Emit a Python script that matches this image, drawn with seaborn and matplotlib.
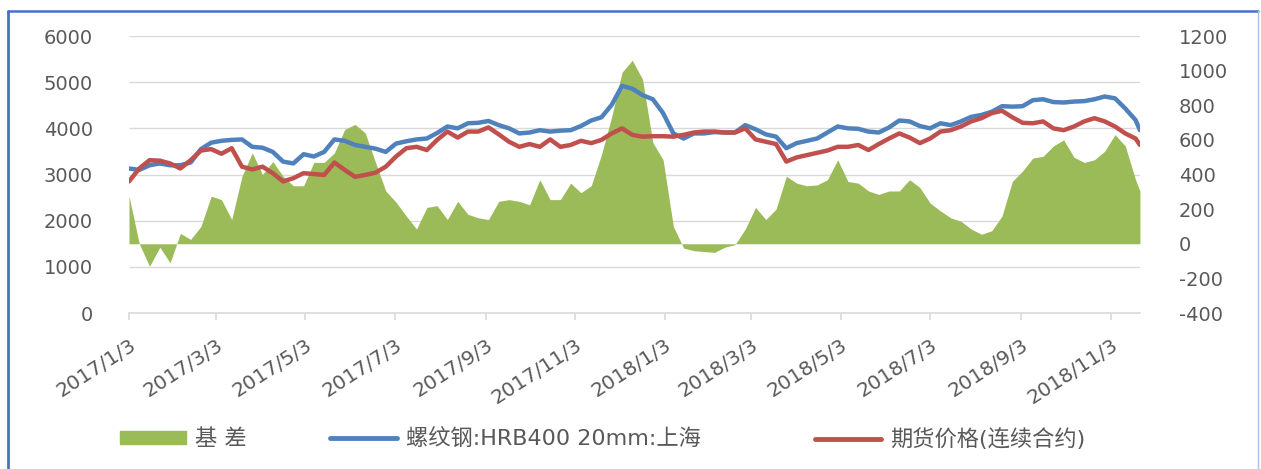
import pandas as pd
import numpy as np
import seaborn as sns
import matplotlib.pyplot as plt
import matplotlib.transforms as mtransforms
from matplotlib.lines import Line2D
from matplotlib.patches import Patch

# =========================
# DATA (weekly readings)
# =========================
dates = list(pd.date_range("2017-01-03", periods=99, freq="7D")) + [pd.Timestamp("2018-11-23")]

spot_price = [
    3130, 3100, 3200, 3240, 3200, 3200, 3260, 3550, 3690, 3730,
    3750, 3760, 3600, 3580, 3490, 3280, 3240, 3440, 3390, 3490,
    3760, 3730, 3640, 3600, 3560, 3490, 3670, 3720, 3760, 3780,
    3900, 4040, 4000, 4110, 4120, 4160, 4070, 4000, 3890, 3910,
    3960, 3930, 3950, 3960, 4050, 4170, 4240, 4510, 4920, 4860,
    4720, 4630, 4330, 3890, 3780, 3890, 3890, 3920, 3910, 3910,
    4070, 3980, 3870, 3820, 3570, 3680, 3730, 3780, 3910, 4040,
    4000, 3990, 3930, 3910, 4020, 4170, 4150, 4050, 4000, 4110,
    4070, 4150, 4250, 4290, 4360, 4480, 4470, 4480, 4610, 4630,
    4570, 4560, 4580, 4590, 4630, 4690, 4650, 4430, 4180, 3960,
]

futures_price = [
    2850, 3130, 3310, 3300, 3240, 3130, 3310, 3520, 3550, 3450,
    3570, 3170, 3110, 3170, 3030, 2850, 2920, 3030, 3010, 2990,
    3260, 3100, 2950, 2990, 3040, 3170, 3390, 3570, 3600, 3530,
    3750, 3930, 3800, 3930, 3930, 4020, 3870, 3710, 3600, 3660,
    3600, 3760, 3600, 3640, 3730, 3680, 3750, 3890, 4000, 3860,
    3820, 3830, 3830, 3820, 3860, 3910, 3930, 3930, 3910, 3910,
    4000, 3760, 3710, 3660, 3280, 3370, 3420, 3470, 3520, 3600,
    3600, 3640, 3530, 3660, 3780, 3890, 3800, 3680, 3780, 3930,
    3960, 4040, 4150, 4220, 4330, 4380, 4240, 4120, 4110, 4150,
    4000, 3960, 4040, 4150, 4220, 4150, 4040, 3890, 3780, 3640,
]

basis = [
    275, 0, -130, -20, -110, 60, 25, 100, 275, 255,
    140, 390, 525, 400, 475, 390, 335, 335, 470, 470,
    525, 660, 690, 640, 470, 305, 240, 160, 85, 210,
    220, 140, 245, 170, 150, 140, 245, 255, 245, 225,
    370, 255, 255, 350, 295, 335, 515, 735, 990, 1060,
    950, 585, 485, 100, -25, -40, -45, -50, -20, -5,
    85, 210, 140, 200, 390, 350, 335, 340, 370, 485,
    360, 350, 305, 285, 305, 305, 370, 325, 235, 190,
    150, 130, 85, 55, 75, 160, 360, 420, 495, 505,
    565, 600, 500, 470, 485, 535, 630, 565, 370, 305,
]

series_names = ["基 差", "螺纹钢:HRB400 20mm:上海", "期货价格(连续合约)"]
left_ticks = [0, 1000, 2000, 3000, 4000, 5000, 6000]
right_ticks = [-400, -200, 0, 200, 400, 600, 800, 1000, 1200]

df = pd.DataFrame({"date": dates, "spot": spot_price, "futures": futures_price, "basis": basis})

# =========================
# STYLE
# =========================
sns.set_theme(style="white")
plt.rcParams["font.family"] = ["DejaVu Sans", "Noto Sans CJK SC"]

GREEN = "#9BBB59"
BLUE = "#4F81BD"
RED = "#C0504D"
TEXT = "#595959"
GRID = "#D9D9D9"

fig = plt.figure(figsize=(12.61, 4.69), dpi=100)
ax = fig.add_axes([0.1023, 0.3326, 0.8017, 0.5906])
ax2 = ax.twinx()

# =========================
# BASIS AREA (right axis)
# =========================
ax2.fill_between(df["date"], 0, df["basis"], color=GREEN, linewidth=0, zorder=2)
# gridlines follow the left axis but sit behind the area
ax2.hlines(left_ticks[1:], 0, 1, transform=ax.get_yaxis_transform(),
           color=GRID, linewidth=1, zorder=1)
ax2.set_ylim(-400, 1200)
ax2.set_yticks(right_ticks)
ax2.set_yticklabels([str(v) for v in right_ticks])

# =========================
# PRICE LINES (left axis)
# =========================
sns.lineplot(data=df, x="date", y="spot", ax=ax, color=BLUE, linewidth=3.2, legend=False)
sns.lineplot(data=df, x="date", y="futures", ax=ax, color=RED, linewidth=3.2, legend=False)
ax.set_zorder(ax2.get_zorder() + 1)
ax.patch.set_visible(False)
ax2.patch.set_visible(False)

ax.set_ylim(0, 6000)
ax.set_yticks(left_ticks)
ax.set_xlim(dates[0], dates[-1])
ax.set_xlabel("")
ax.set_ylabel("")

tick_dates = pd.date_range("2017-01-01", "2018-11-01", freq="2MS") + pd.Timedelta(days=2)
ax.set_xticks(tick_dates)
ax.set_xticklabels([f"{d.year}/{d.month}/{d.day}" for d in tick_dates],
                   rotation=33, ha="right", va="top", rotation_mode="anchor")
# nudge the rotated labels a little to the right, like Excel does
shift = mtransforms.ScaledTranslation(0.07, 0, fig.dpi_scale_trans)
for lbl in ax.get_xticklabels():
    lbl.set_transform(lbl.get_transform() + shift)

for a in (ax, ax2):
    for s in a.spines.values():
        s.set_visible(False)
ax.spines["bottom"].set_visible(True)
ax.spines["bottom"].set_color(GRID)
ax.spines["bottom"].set_linewidth(1.2)

ax.tick_params(axis="x", bottom=True, length=5, width=1.2, color=GRID,
               labelsize=14.5, labelcolor=TEXT, pad=11)
ax.tick_params(axis="y", left=False, labelsize=14, labelcolor=TEXT, pad=20)
ax2.tick_params(axis="y", right=False, labelsize=14, labelcolor=TEXT, pad=22)
ax.grid(False)
ax2.grid(False)

# =========================
# LEGEND
# =========================
handles = [
    Patch(facecolor=GREEN, edgecolor=GREEN),
    Line2D([0], [0], color=BLUE, linewidth=3.5),
    Line2D([0], [0], color=RED, linewidth=3.5),
]
legend_x = [0.095, 0.262, 0.646]
for h, name, x in zip(handles, series_names, legend_x):
    fig.legend([h], [name], loc="center left", bbox_to_anchor=(x, 0.064),
               frameon=False, fontsize=16, labelcolor=TEXT, borderpad=0,
               borderaxespad=0, handlelength=3.0, handletextpad=0.4,
               handleheight=0.55)

# =========================
# OUTER FRAME
# =========================
fig.add_artist(Line2D([8 / 1261, 8 / 1261], [0, 1 - 11 / 469], color="#4472C4", linewidth=2))
fig.add_artist(Line2D([8 / 1261, 1257.5 / 1261], [1 - 11 / 469, 1 - 11 / 469], color="#4472C4", linewidth=1.8))
fig.add_artist(Line2D([1257.5 / 1261, 1257.5 / 1261], [0, 1 - 11 / 469], color="#A9BEE3", linewidth=1))

plt.savefig("out.png", dpi=100)
